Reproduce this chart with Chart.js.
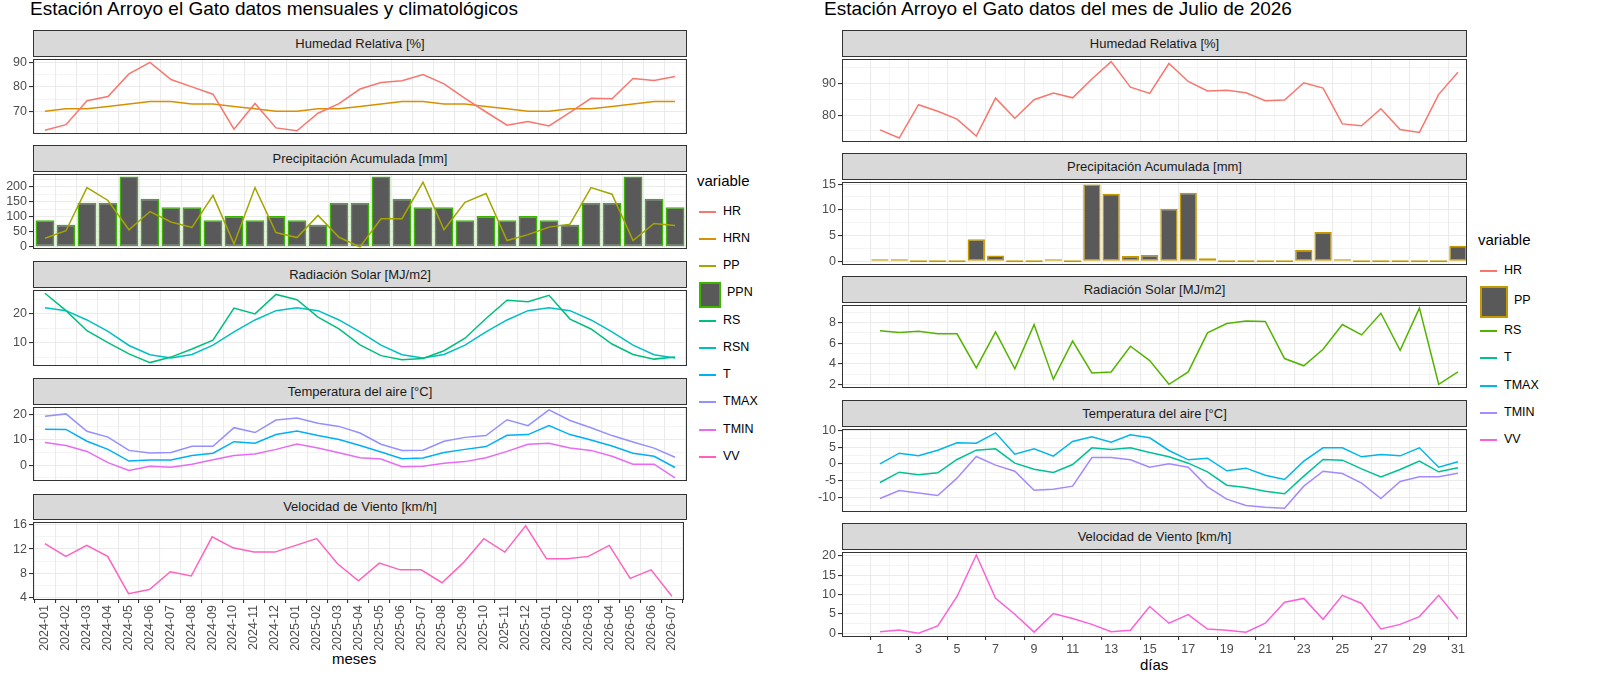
<!DOCTYPE html>
<html><head><meta charset="utf-8">
<script src="https://cdn.jsdelivr.net/npm/chart.js@4/dist/chart.umd.min.js"></script>
<style>
body{margin:0;width:1600px;height:676px;background:#fff;position:relative;overflow:hidden;font-family:"Liberation Sans",Arial,sans-serif}
canvas{position:absolute}
.strip{position:absolute;background:#D9D9D9;border:1px solid #333;box-sizing:border-box;text-align:center;font-size:13px;color:#1A1A1A}
.t{position:absolute;color:#000;white-space:nowrap}
.leg{position:absolute;font-size:12.5px;color:#000}
</style></head><body>
<div class="t" style="left:30px;top:-2px;font-size:19px">Estación Arroyo el Gato datos mensuales y climatológicos</div>
<div class="t" style="left:824px;top:-2px;font-size:19px">Estación Arroyo el Gato datos del mes de Julio de 2026</div>
<div class="t" style="left:332px;top:650px;font-size:15px">meses</div>
<div class="t" style="left:1140px;top:656px;font-size:15px">días</div>
<div id="root"></div>
<script>
const months = ["2024-01","2024-02","2024-03","2024-04","2024-05","2024-06","2024-07","2024-08","2024-09","2024-10","2024-11","2024-12","2025-01","2025-02","2025-03","2025-04","2025-05","2025-06","2025-07","2025-08","2025-09","2025-10","2025-11","2025-12","2026-01","2026-02","2026-03","2026-04","2026-05","2026-06","2026-07"];
const HR  = [62.2,64.5,74.3,76,85.3,90,83,80,77,62.7,73.2,63.2,62,69.2,73.1,79.1,81.8,82.5,85,81.2,75.3,69.7,64.3,65.8,64,69.5,75.3,75.1,83.4,82.6,84.2];
const HRN = [70,71,71,72,73,74,74,73,73,72,71,70,70,71,71,72,73,74,74,73,73,72,71,70,70,71,71,72,73,74,74];
const PP  = [29,54,198,155,57,118,83,65,172,10,198,48,31,105,32,0,94,94,216,57,149,178,21,41,66,76,198,176,21,78,71];
const PPN = [89,74,147,147,235,161,132,132,89,103,89,103,89,74,147,147,235,161,132,132,89,103,89,103,89,74,147,147,235,161,132];
const RS  = [27.1,21.1,14.2,10.1,6.2,3.2,5.1,7.9,10.9,22,20,26.7,24.9,18.9,14.8,9.3,5.6,4.2,4.6,7.3,11.6,18.4,24.7,24.2,26.4,18.2,14.8,9.6,6,4.4,5.1];
const RSN = [22.1,21.1,17.9,14,9.1,5.9,4.8,6,9.2,13.8,17.9,21.1,22.1,21.1,17.9,13.8,9.2,5.9,4.8,6,9.2,13.8,17.9,21.1,22.1,21.1,17.9,13.8,9.2,5.9,4.8];
const T    = [14.1,14,9.4,6.2,1.6,2,2,3.8,4.7,9.2,8.6,12,13.4,11.6,10.1,7.7,5.2,2.5,2.8,5,6.2,7.3,11.7,12,15.5,12,9.9,7.5,4.7,3.5,-0.9];
const TMAX = [19.2,20.1,13.3,11,5.8,4.8,5,7.4,7.4,14.7,12.8,17.7,18.5,16.4,15.2,12.6,8.2,5.8,5.9,9.4,10.9,11.6,17.8,15.5,21.7,17.5,14.7,11.6,9.1,6.7,3.1];
const TMIN = [8.9,7.7,5.4,1,-2.1,-0.4,-0.8,0.4,2.1,3.8,4.4,6.2,8.3,6.7,4.9,2.9,2.4,-0.6,-0.4,0.8,1.4,2.9,5.4,8.2,8.6,6.7,5.8,3.5,0.4,0.4,-5];
const VV   = [12.9,10.8,12.6,10.8,4.7,5.4,8.3,7.6,14,12.2,11.5,11.5,12.6,13.7,9.6,6.8,9.7,8.6,8.6,6.5,9.7,13.7,11.5,15.8,10.4,10.4,10.8,12.6,7.2,8.6,4.3];

const days = Array.from({length:31},(_,i)=>i+1);
const dHR  = [75.3,72.7,83.3,81.2,78.7,73.3,85.4,79,84.9,87,85.5,91.5,97,88.9,86.9,96.4,90.7,87.7,87.9,87.1,84.6,84.8,90.3,88.6,77.2,76.6,82,75.4,74.5,86.6,93.6];
const dPP  = [0.3,0.3,0,0,0,4.3,1.1,0,0,0.2,0,14.9,13.1,1.0,1.2,10.2,13.3,0.6,0,0,0,0,2.2,5.7,0.1,0,0,0,0,0,3.0];
const dRS  = [7.2,7.03,7.15,6.9,6.9,3.6,7.1,3.5,7.8,2.5,6.2,3.1,3.2,5.7,4.3,2,3.2,7,7.9,8.15,8.1,4.5,3.8,5.4,7.8,6.8,8.9,5.3,9.4,2,3.2];
const dTMAX= [0,3.2,2.4,4.1,6.3,6.2,9.3,2.9,4.5,2.3,6.7,8.1,6.5,8.7,7.8,4,1.2,1.7,-2.1,-1.3,-3.4,-4.7,0.8,4.8,4.8,2.1,2.8,2.4,4.8,-1,0.6];
const dT   = [-5.6,-2.5,-3.3,-2.7,1.3,4.1,4.5,0.2,-1.6,-2.6,-0.2,4.8,4.3,4.8,3.4,2.1,0.2,-2.4,-6.4,-7.1,-8.2,-9,-3.7,1.3,1.1,-1.5,-3.9,-1.7,0.8,-2.4,-1.2];
const dTMIN= [-10.4,-8,-8.75,-9.5,-4.3,2.2,-0.4,-2.2,-7.9,-7.6,-6.7,1.9,1.9,1.2,-1,0,-1,-6.9,-10.6,-12.5,-13,-13.3,-6.7,-2.2,-2.9,-5.8,-10.4,-5.3,-3.9,-3.9,-2.8];
const dVV  = [0.4,0.85,0,1.9,9.5,20.2,9,4.9,0.3,5.1,3.8,2.3,0.4,0.8,6.9,2.6,4.8,1.1,0.8,0.3,2.6,8,9,3.6,9.8,7.7,1.1,2.3,4.3,9.8,3.7];

const TICK='#4D4D4D', GRID='#EBEBEB';
const border={id:'pb',afterDraw(c){const a=c.chartArea,x=c.ctx;x.save();x.strokeStyle='#333';x.lineWidth=1;x.strokeRect(Math.round(a.left)+0.5,Math.round(a.top)+0.5,Math.round(a.right-a.left)-1,Math.round(a.bottom-a.top)-1);x.restore();}};
const root=document.getElementById('root');
const tv=c=>(c&&c.tick)?c.tick.value:0;

function facet(o){
  const s=document.createElement('div');s.className='strip';
  s.style.cssText=`left:${o.pl}px;top:${o.st}px;width:${o.pr-o.pl}px;height:${o.pt-o.st}px;line-height:${o.pt-o.st-2}px`;
  s.textContent=o.title;root.appendChild(s);
  const xh=o.bottom?o.xh:0;
  const cv=document.createElement('canvas');
  const W=o.pr-o.cl+2, H=o.ph+16+xh;
  cv.width=W;cv.height=H;cv.style.left=o.cl+'px';cv.style.top=(o.pt-8)+'px';
  cv.style.width=W+'px';cv.style.height=H+'px';root.appendChild(cv);
  const yt=[];for(let v=Math.ceil(o.ymin/o.ystep-1e-9)*o.ystep;v<=o.ymax+1e-9;v+=o.ystep)yt.push(+v.toFixed(4));
  const isMaj=v=>Math.abs(v/o.ymaj-Math.round(v/o.ymaj))<1e-6;
  new Chart(cv,{type:'bar',data:{datasets:o.ds},plugins:[border],options:{
    responsive:false,animation:false,devicePixelRatio:1,
    layout:{padding:{top:8,bottom:8,left:0,right:2}},
    plugins:{legend:{display:false},tooltip:{enabled:false}},
    scales:{
      x:{type:'linear',min:o.xmin,max:o.xmax,offset:false,
        afterBuildTicks:sc=>{sc.ticks=o.xticks.map(v=>({value:v}));},
        afterFit:sc=>{sc.height=xh;},
        border:{display:false},
        grid:{color:GRID,lineWidth:c=>o.xmajor(tv(c))?1.1:0.55,drawTicks:!!o.bottom,tickLength:4,
          tickColor:c=>o.xmajor(tv(c))?'#333':'rgba(0,0,0,0)'},
        ticks:{display:!!o.bottom,autoSkip:false,color:TICK,font:{size:12.5,family:'Liberation Sans'},padding:2,
          maxRotation:o.rot,minRotation:o.rot,callback:v=>o.xlabel(v)}},
      y:{min:o.ymin,max:o.ymax,
        afterBuildTicks:sc=>{sc.ticks=yt.map(v=>({value:v}));},
        afterFit:sc=>{sc.width=o.pl-o.cl;},
        border:{display:false},
        grid:{color:GRID,lineWidth:c=>isMaj(tv(c))?1.1:0.55,tickLength:4,
          tickColor:c=>isMaj(tv(c))?'#333':'rgba(0,0,0,0)'},
        ticks:{autoSkip:false,color:TICK,font:{size:12.5,family:'Liberation Sans'},padding:2,
          callback:v=>isMaj(v)?String(Math.round(v)):''}}
    }}});
}
const line=(arr,col,xs)=>({type:'line',data:arr.map((v,i)=>({x:xs[i],y:v})),borderColor:col,borderWidth:1.5,pointRadius:0,tension:0,order:0});
const bars=(arr,col,xs)=>({type:'bar',data:arr.map((v,i)=>({x:xs[i],y:v})),backgroundColor:'#595959',borderColor:col,borderWidth:1.5,borderSkipped:false,minBarLength:2,barPercentage:0.9,categoryPercentage:1,order:1});

const mi=months.map((_,i)=>i);
const L={cl:0,pl:33,pr:687,xmin:-0.57,xmax:30.57,xticks:mi,xmajor:()=>true,xlabel:v=>months[v]||'',rot:90,xh:62};
const lf=[
 {title:'Humedad Relativa [%]',st:30,pt:57,ph:78,ymin:60.9,ymax:91.6,ystep:5,ymaj:10,ds:[line(HR,'#F8766D',mi),line(HRN,'#D89000',mi)]},
 {title:'Precipitación Acumulada [mm]',st:145,pt:172,ph:78,ymin:-5.4,ymax:245,ystep:25,ymaj:50,ds:[line(PP,'#A3A500',mi),bars(PPN,'#39B600',mi)]},
 {title:'Radiación Solar [MJ/m2]',st:261,pt:288,ph:79,ymin:2.2,ymax:28.4,ystep:5,ymaj:10,ds:[line(RS,'#00BF7D',mi),line(RSN,'#00BFC4',mi)]},
 {title:'Temperatura del aire [°C]',st:378,pt:405,ph:77,ymin:-6,ymax:23,ystep:5,ymaj:10,ds:[line(T,'#00B0F6',mi),line(TMAX,'#9590FF',mi),line(TMIN,'#E76BF3',mi)]},
 {title:'Velocidad de Viento [km/h]',st:494,pt:520,ph:79,ymin:3.84,ymax:16.5,ystep:2,ymaj:4,bottom:true,ds:[line(VV,'#FF62BC',mi)]}
];
lf.forEach(f=>facet(Object.assign({},L,f)));

const R={cl:790,pl:842,pr:1467,xmin:-0.97,xmax:31.47,xticks:days,xmajor:v=>v%2===1,xlabel:v=>v%2===1?String(v):'',rot:0,xh:26};
const rf=[
 {title:'Humedad Relativa [%]',st:30,pt:57,ph:86,ymin:71.6,ymax:98,ystep:5,ymaj:10,ds:[line(dHR,'#F8766D',days)]},
 {title:'Precipitación Acumulada [mm]',st:153,pt:180,ph:86,ymin:-0.63,ymax:15.5,ystep:2.5,ymaj:5,ds:[bars(dPP,'#C49A00',days)]},
 {title:'Radiación Solar [MJ/m2]',st:276,pt:303,ph:86,ymin:1.69,ymax:9.75,ystep:1,ymaj:2,ds:[line(dRS,'#53B400',days)]},
 {title:'Temperatura del aire [°C]',st:400,pt:427,ph:86,ymin:-14.3,ymax:10.6,ystep:2.5,ymaj:5,ds:[line(dT,'#00C094',days),line(dTMAX,'#00B6EB',days),line(dTMIN,'#A58AFF',days)]},
 {title:'Velocidad de Viento [km/h]',st:523,pt:550,ph:86,ymin:-0.7,ymax:21.1,ystep:2.5,ymaj:5,bottom:true,ds:[line(dVV,'#FB61D7',days)]}
];
rf.forEach(f=>facet(Object.assign({},R,f)));

function legend(x,y,items){
  const t=document.createElement('div');t.className='leg';t.style.cssText=`left:${x}px;top:${y}px;font-size:15px`;t.textContent='variable';root.appendChild(t);
  let cy=y+26;
  items.forEach(it=>{
    const h=it.box?it.box+5:27.3;
    const k=document.createElement('div');k.style.position='absolute';
    if(it.box){k.style.cssText+=`left:${x+2}px;top:${cy+2}px;width:${it.box-4}px;height:${it.box}px;background:#595959;border:2px solid ${it.c};`;}
    else{k.style.cssText+=`left:${x+2}px;top:${Math.round(cy+h/2-1)}px;width:17px;height:2px;background:${it.c}`;}
    root.appendChild(k);
    const l=document.createElement('div');l.className='leg';l.style.cssText=`left:${x+(it.box?it.box+8:26)}px;top:${cy+h/2-8}px`;l.textContent=it.n;root.appendChild(l);
    cy+=h;
  });
}
legend(697,172,[{n:'HR',c:'#F8766D'},{n:'HRN',c:'#D89000'},{n:'PP',c:'#A3A500'},{n:'PPN',c:'#39B600',box:22},{n:'RS',c:'#00BF7D'},{n:'RSN',c:'#00BFC4'},{n:'T',c:'#00B0F6'},{n:'TMAX',c:'#9590FF'},{n:'TMIN',c:'#E76BF3'},{n:'VV',c:'#FF62BC'}]);
legend(1478,231,[{n:'HR',c:'#F8766D'},{n:'PP',c:'#C49A00',box:28},{n:'RS',c:'#53B400'},{n:'T',c:'#00C094'},{n:'TMAX',c:'#00B6EB'},{n:'TMIN',c:'#A58AFF'},{n:'VV',c:'#FB61D7'}]);
</script></body></html>
